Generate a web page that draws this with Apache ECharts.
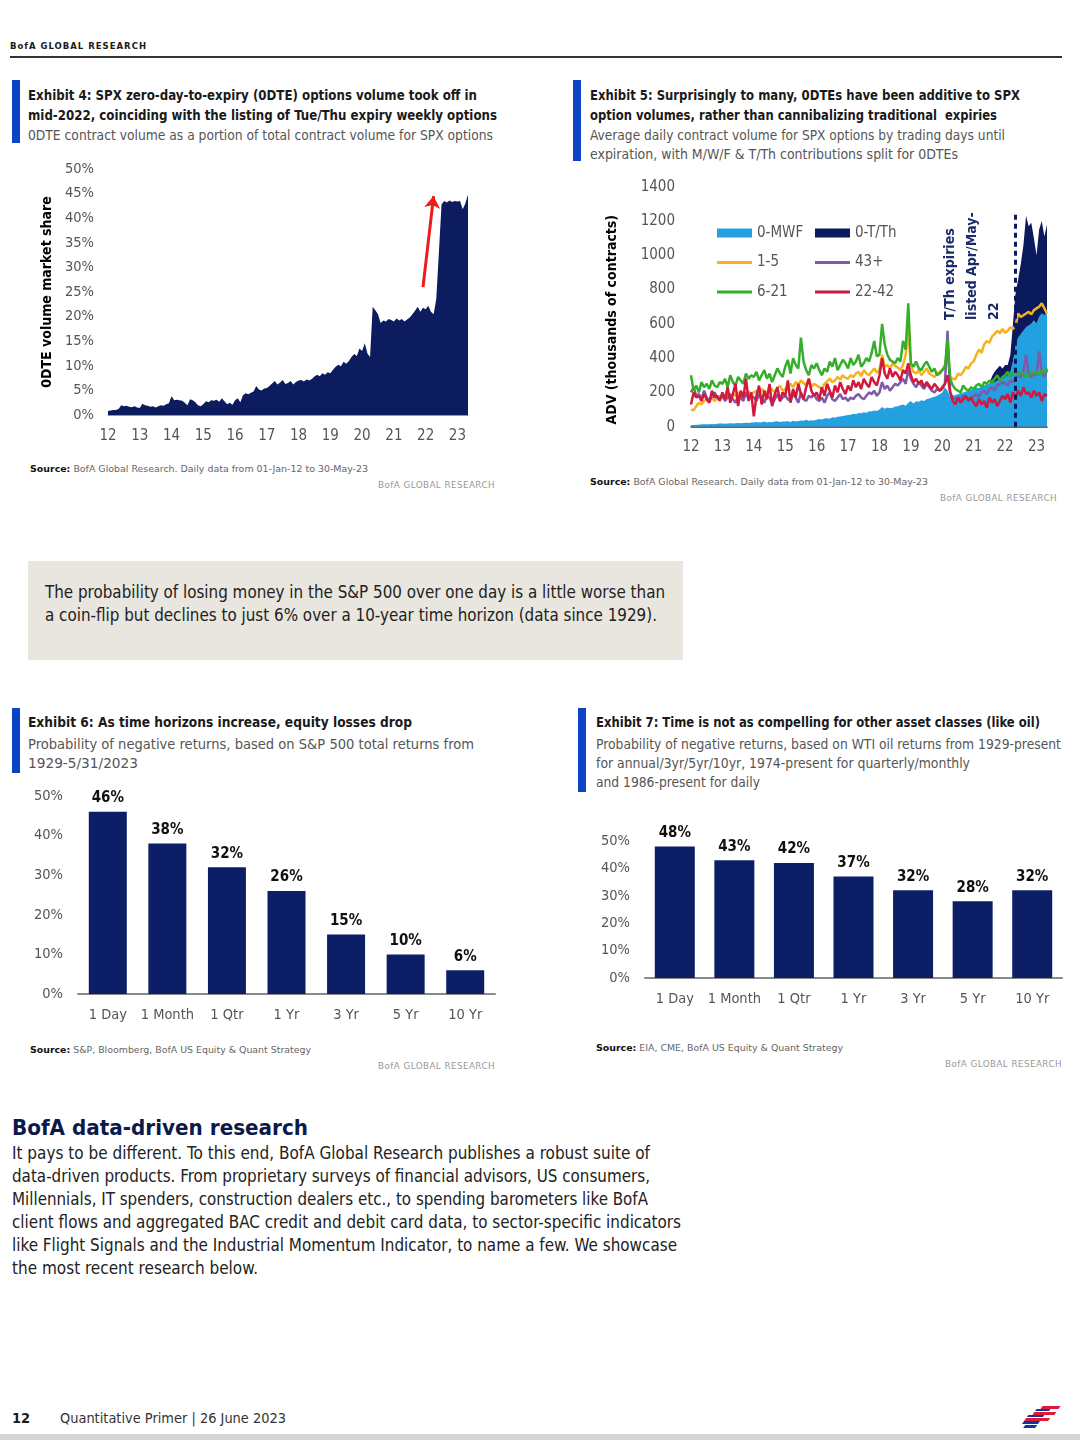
<!DOCTYPE html>
<html><head><meta charset="utf-8">
<script src="https://cdn.jsdelivr.net/npm/echarts@6/dist/echarts.min.js"></script>
<style>
html,body{margin:0;padding:0;background:#fff;width:1080px;height:1440px;overflow:hidden;}
body{position:relative;font-family:"DejaVu Sans Condensed","Liberation Sans Narrow",sans-serif;color:#1a1a1a;}
.t{position:absolute;white-space:nowrap;line-height:20px;transform-origin:0 50%;}
.bar{position:absolute;background:#0b45c6;}
.ttl{font-weight:bold;font-size:14.5px;color:#1a1a1a;}
.sub{font-size:14.5px;color:#555;}
.src{font-size:9px;color:#666;line-height:12px;}
.src b{color:#111;}
.gr{font-size:9px;color:#999;letter-spacing:0.4px;line-height:12px;}
.big{font-size:17.5px;color:#222;line-height:23px;}
.ch{position:absolute;}
</style></head>
<body>
<div class="t" data-w="137" style="left:10px;top:40px;font-size:8.5px;font-weight:bold;letter-spacing:0.9px;line-height:12px;">BofA GLOBAL RESEARCH</div>
<div style="position:absolute;left:10px;top:56px;width:1052px;height:2px;background:#333;"></div>

<div class="bar" style="left:12px;top:80px;width:8px;height:63px;"></div>
<div class="t ttl" data-w="449" style="left:28px;top:85px;">Exhibit 4: SPX zero-day-to-expiry (0DTE) options volume took off in</div>
<div class="t ttl" data-w="469" style="left:28px;top:105px;">mid-2022, coinciding with the listing of Tue/Thu expiry weekly options</div>
<div class="t sub" data-w="465" style="left:28px;top:125px;">0DTE contract volume as a portion of total contract volume for SPX options</div>

<div class="bar" style="left:573px;top:80px;width:8px;height:81px;"></div>
<div class="t ttl" data-w="430" style="left:590px;top:85px;">Exhibit 5: Surprisingly to many, 0DTEs have been additive to SPX</div>
<div class="t ttl" data-w="407" style="left:590px;top:105px;">option volumes, rather than cannibalizing traditional&nbsp; expiries</div>
<div class="t sub" data-w="415" style="left:590px;top:125px;">Average daily contract volume for SPX options by trading days until</div>
<div class="t sub" data-w="368" style="left:590px;top:144px;">expiration, with M/W/F &amp; T/Th contributions split for 0DTEs</div>

<div id="c4" class="ch" style="left:20px;top:150px;width:480px;height:300px;"></div>
<div id="c5" class="ch" style="left:580px;top:170px;width:490px;height:300px;"></div>

<div class="t src" data-w="338" style="left:30px;top:463px;"><b>Source:</b> BofA Global Research. Daily data from 01-Jan-12 to 30-May-23</div>
<div class="t gr" data-w="117" style="left:378px;top:479px;">BofA GLOBAL RESEARCH</div>
<div class="t src" data-w="338" style="left:590px;top:476px;"><b>Source:</b> BofA Global Research. Daily data from 01-Jan-12 to 30-May-23</div>
<div class="t gr" data-w="117" style="left:940px;top:492px;">BofA GLOBAL RESEARCH</div>

<div style="position:absolute;left:28px;top:561px;width:655px;height:99px;background:#e8e6de;"></div>
<div class="t big" data-w="620" style="left:45px;top:580.5px;">The probability of losing money in the S&amp;P 500 over one day is a little worse than</div>
<div class="t big" data-w="612" style="left:45px;top:603.5px;">a coin-flip but declines to just 6% over a 10-year time horizon (data since 1929).</div>

<div class="bar" style="left:12px;top:708px;width:8px;height:65px;"></div>
<div class="t ttl" data-w="384" style="left:28px;top:712px;">Exhibit 6: As time horizons increase, equity losses drop</div>
<div class="t sub" data-w="446" style="left:28px;top:734px;">Probability of negative returns, based on S&amp;P 500 total returns from</div>
<div class="t sub" data-w="110" style="left:28px;top:753px;">1929-5/31/2023</div>

<div class="bar" style="left:578px;top:708px;width:8px;height:84px;"></div>
<div class="t ttl" data-w="444" style="left:596px;top:712px;">Exhibit 7: Time is not as compelling for other asset classes (like oil)</div>
<div class="t sub" data-w="465" style="left:596px;top:734px;">Probability of negative returns, based on WTI oil returns from 1929-present</div>
<div class="t sub" data-w="374" style="left:596px;top:753px;">for annual/3yr/5yr/10yr, 1974-present for quarterly/monthly</div>
<div class="t sub" data-w="164" style="left:596px;top:772px;">and 1986-present for daily</div>

<div id="c6" class="ch" style="left:20px;top:780px;width:480px;height:250px;"></div>
<div id="c7" class="ch" style="left:585px;top:820px;width:485px;height:195px;"></div>

<div class="t src" data-w="281" style="left:30px;top:1044px;"><b>Source:</b> S&amp;P, Bloomberg, BofA US Equity &amp; Quant Strategy</div>
<div class="t gr" data-w="117" style="left:378px;top:1060px;">BofA GLOBAL RESEARCH</div>
<div class="t src" data-w="247" style="left:596px;top:1042px;"><b>Source:</b> EIA, CME, BofA US Equity &amp; Quant Strategy</div>
<div class="t gr" data-w="117" style="left:945px;top:1058px;">BofA GLOBAL RESEARCH</div>

<div class="t" data-w="296" style="left:12px;top:1114px;font-weight:bold;font-size:21px;line-height:28px;color:#0b1a4a;">BofA data-driven research</div>
<div class="t big" data-w="638" style="left:12px;top:1141.5px;">It pays to be different. To this end, BofA Global Research publishes a robust suite of</div>
<div class="t big" data-w="638" style="left:12px;top:1164.5px;">data-driven products. From proprietary surveys of financial advisors, US consumers,</div>
<div class="t big" data-w="636" style="left:12px;top:1187.5px;">Millennials, IT spenders, construction dealers etc., to spending barometers like BofA</div>
<div class="t big" data-w="669" style="left:12px;top:1210.5px;">client flows and aggregated BAC credit and debit card data, to sector-specific indicators</div>
<div class="t big" data-w="665" style="left:12px;top:1233.5px;">like Flight Signals and the Industrial Momentum Indicator, to name a few. We showcase</div>
<div class="t big" data-w="246" style="left:12px;top:1256.5px;">the most recent research below.</div>

<div class="t" style="left:12px;top:1408px;font-weight:bold;font-size:14.5px;">12</div>
<div class="t" data-w="226" style="left:60px;top:1408px;font-size:14.5px;color:#333;">Quantitative Primer | 26 June 2023</div>
<svg style="position:absolute;left:1014px;top:1404px;" width="48" height="28" viewBox="0 0 48 28">
<g transform="skewX(-35)">
<rect x="30" y="2" width="18" height="3" fill="#e31837"/>
<rect x="26" y="8" width="22" height="3" fill="#e31837"/>
<rect x="22" y="14" width="24" height="3" fill="#e31837"/>
<rect x="26" y="5" width="14" height="2" fill="#0b3a9e"/>
<rect x="22" y="11" width="16" height="2" fill="#0b3a9e"/>
<rect x="22" y="17" width="16" height="3" fill="#0b3a9e"/>
<rect x="26" y="21" width="12" height="3" fill="#0b3a9e"/>
</g>
</svg>
<div style="position:absolute;left:0;top:1434px;width:1080px;height:6px;background:#d4d4d4;"></div>

<script>
// fit each text line to the width measured on the reference page
document.querySelectorAll('.t[data-w]').forEach(el => {
  const natural = el.getBoundingClientRect().width;
  const target = parseFloat(el.dataset.w);
  if (natural > 0) el.style.transform = 'scaleX(' + (target / natural).toFixed(4) + ')';
});

const F = '"DejaVu Sans Condensed","Liberation Sans Narrow",sans-serif';

// months 2012-01 .. 2023-05
const months = [];
for (let y = 2012; y <= 2023; y++) {
  for (let m = 1; m <= 12; m++) {
    if (y === 2023 && m > 5) break;
    months.push(y + '-' + (m < 10 ? '0' + m : '' + m));
  }
}

// Exhibit 4: 0DTE share of SPX volume (%), monthly
const odteShare = [
  0.8,0.9,1.0,1.0,1.2,2.0,1.8,1.9,1.7,1.6,1.8,1.5,
  1.4,2.3,2.0,1.9,1.7,1.8,1.5,1.8,2.0,1.9,2.2,2.4,
  3.8,3.0,3.1,3.0,2.9,2.5,2.0,3.2,3.0,2.6,2.0,1.8,
  2.2,2.8,2.6,3.0,2.9,3.1,2.7,3.4,2.8,2.2,2.5,2.1,
  3.0,3.4,2.6,4.0,4.4,4.2,4.5,4.8,5.9,5.2,5.0,5.4,
  5.5,5.9,6.4,6.9,6.2,6.6,7.1,6.3,6.5,6.9,6.2,6.7,
  7.0,7.1,6.8,7.2,7.0,7.3,7.8,8.2,7.9,8.5,8.2,8.7,
  8.5,9.2,9.8,10.2,9.9,10.8,10.4,11.0,11.8,12.4,12.0,13.5,
  13.0,14.6,12.5,11.8,22.0,21.3,20.5,18.7,19.2,19.0,19.5,19.3,
  19.0,19.6,19.2,19.5,19.0,19.4,19.8,20.5,21.2,22.0,21.0,21.8,
  21.5,22.2,21.0,20.5,23.5,33.0,42.8,43.5,43.2,43.6,43.3,43.5,
  43.4,43.5,41.8,43.0,44.8
];

// Exhibit 5: ADV by days to expiry (thousands), monthly
const mwf = [
  10,10,12,12,14,15,14,15,16,15,17,18,
  18,17,19,20,18,20,22,20,21,23,22,24,
  25,28,24,26,30,25,27,26,30,32,28,30,
  30,32,28,35,30,33,36,34,40,35,38,36,
  40,45,42,48,50,46,55,52,58,60,62,65,
  68,70,75,72,80,78,85,82,90,88,95,92,
  100,115,105,112,108,110,118,120,125,130,122,140,
  150,135,148,145,155,150,160,165,170,175,180,190,
  200,230,210,175,180,185,190,195,200,205,210,215,
  220,230,225,235,240,245,250,255,260,270,275,280,
  290,300,320,380,470,520,540,560,580,590,600,620,
  600,640,660,650,670
];
const tth = [
  0,0,0,0,0,0,0,0,0,0,0,0,
  0,0,0,0,0,0,0,0,0,0,0,0,
  0,0,0,0,0,0,0,0,0,0,0,0,
  0,0,0,0,0,0,0,0,0,0,0,0,
  0,0,0,0,0,0,0,0,0,0,0,0,
  0,0,0,0,0,0,0,0,0,0,0,0,
  0,0,0,0,0,0,0,0,0,0,0,0,
  0,0,0,0,0,0,0,0,0,0,0,0,
  0,0,0,0,0,0,0,0,0,0,0,0,
  0,0,0,0,0,0,0,40,60,70,80,60,
  70,60,100,220,310,340,410,500,650,580,590,480,
  400,510,540,460,510
];
const d1to5 = [
  100,95,120,140,130,150,160,145,170,150,165,180,
  170,160,185,175,190,180,200,170,185,195,205,190,
  200,210,190,220,205,195,230,215,200,225,240,210,
  220,235,250,230,260,245,270,255,240,280,230,250,
  240,230,220,250,265,280,260,270,290,275,300,285,
  280,300,290,310,320,295,330,310,300,320,340,315,
  330,420,350,360,340,370,355,345,330,360,420,560,
  360,320,310,330,300,320,340,310,300,290,310,320,
  330,360,420,290,280,275,310,300,320,350,340,370,
  380,420,450,430,480,500,490,527,540,560,545,570,
  547,560,580,570,590,660,640,650,660,670,655,680,
  690,700,720,690,660
];
const d6to21 = [
  300,210,240,200,260,230,250,220,270,240,230,260,
  250,280,230,300,260,240,290,270,250,310,280,300,
  290,320,270,300,330,280,310,260,300,340,310,290,
  350,390,310,400,360,340,520,380,330,300,360,340,
  370,330,300,340,320,380,350,400,330,360,390,370,
  340,400,360,380,420,350,370,400,380,430,500,410,
  420,600,480,420,390,380,370,400,380,500,450,720,
  370,350,380,340,330,360,380,350,320,340,300,310,
  330,350,510,280,240,220,210,200,240,220,210,230,
  220,240,250,230,260,250,270,260,280,300,270,290,
  300,320,290,310,330,300,320,310,290,300,320,310,
  320,300,330,310,340
];
const d22to42 = [
  130,200,170,180,150,190,160,140,210,170,180,150,
  200,160,230,140,190,250,120,210,170,280,150,200,
  60,180,240,130,210,160,250,120,190,230,150,200,
  180,270,140,220,170,250,190,160,230,280,210,180,
  200,160,230,180,250,210,170,240,200,260,220,190,
  240,210,270,230,260,220,280,250,230,290,260,240,
  300,400,310,280,340,290,320,300,270,330,310,370,
  300,260,280,250,270,230,260,240,220,250,230,210,
  230,250,300,200,150,130,170,140,160,180,150,170,
  140,120,160,130,150,110,170,140,160,120,150,180,
  160,190,140,200,170,210,180,230,190,200,170,210,
  180,200,150,190,180
];
const d43plus = [
  200,230,180,190,160,210,170,150,180,200,170,160,
  180,150,170,190,160,140,180,170,150,200,160,180,
  170,150,190,160,140,180,170,130,160,190,150,170,
  180,160,150,190,170,140,200,160,150,180,170,190,
  160,150,170,140,180,200,160,150,170,190,160,170,
  150,170,160,180,190,170,160,180,200,190,210,180,
  200,260,220,240,210,230,250,240,260,280,250,330,
  280,250,230,260,240,220,250,230,210,200,220,210,
  220,250,560,200,170,160,170,160,180,170,160,170,
  180,190,170,200,210,190,220,230,210,240,250,260,
  250,240,270,260,280,300,290,320,420,300,290,310,
  300,440,320,290,330
];

// Exhibits 6 & 7
const horizons = ['1 Day','1 Month','1 Qtr','1 Yr','3 Yr','5 Yr','10 Yr'];
const spxNegative = [46,38,32,26,15,10,6];
const oilNegative = [48,43,42,37,32,28,32];

const GRAY = '#555';
const NAVY = '#0c1c5e';

// ---------- Chart 4 ----------
const c4 = echarts.init(document.getElementById('c4'));
c4.setOption({
  animation:false,
  grid:{left:88,right:32,top:19,bottom:35},
  xAxis:{type:'category',data:months,boundaryGap:false,
    axisLine:{show:true,lineStyle:{color:'#9a9a9a',width:1}},axisTick:{show:false},
    axisLabel:{interval:(i,v)=>v.endsWith('-01'),formatter:v=>v.slice(2,4),color:GRAY,fontSize:15,fontFamily:F,margin:14}},
  yAxis:{type:'value',min:0,max:50,interval:5,splitLine:{show:false},axisLine:{show:false},axisTick:{show:false},
    axisLabel:{formatter:'{value}%',color:GRAY,fontSize:14.5,fontFamily:F,margin:14},
    name:'0DTE volume market share',nameLocation:'middle',nameGap:52,
    nameTextStyle:{color:'#000',fontWeight:'bold',fontSize:14,fontFamily:F}},
  series:[{type:'line',data:odteShare,symbol:'none',lineStyle:{width:0},
    areaStyle:{color:NAVY,opacity:1},
    markLine:{silent:true,symbol:['none','arrow'],symbolSize:12,animation:false,
      lineStyle:{color:'#ee1c1c',width:3,type:'solid'},label:{show:false},
      data:[[{coord:['2021-12',26]},{coord:['2022-04',44.5]}]]}}]
});

// ---------- Chart 5 ----------
const c5 = echarts.init(document.getElementById('c5'));
const lineS = (name,data,color)=>({name,type:'line',data,symbol:'none',showSymbol:false,
  lineStyle:{width:2.5,color},itemStyle:{color},emphasis:{disabled:true}});
const legTxt = {color:GRAY,fontSize:15,fontFamily:F,lineHeight:16};
c5.setOption({
  animation:false,
  grid:{left:111,right:23,top:16.7,bottom:43.3},
  legend:[
    {left:132,top:50,itemWidth:35,itemHeight:9,selectedMode:false,textStyle:legTxt,
      data:[{name:'0-MWF',icon:'rect'}]},
    {left:230,top:50,itemWidth:35,itemHeight:9,selectedMode:false,textStyle:legTxt,
      data:[{name:'0-T/Th',icon:'rect'}]},
    {orient:'vertical',left:132,top:79.5,itemWidth:35,itemHeight:3,itemGap:13.5,selectedMode:false,textStyle:legTxt,
      data:[{name:'1-5',icon:'rect'},{name:'6-21',icon:'rect'}]},
    {orient:'vertical',left:230,top:79.5,itemWidth:35,itemHeight:3,itemGap:13.5,selectedMode:false,textStyle:legTxt,
      data:[{name:'43+',icon:'rect'},{name:'22-42',icon:'rect'}]}
  ],
  xAxis:{type:'category',data:months,boundaryGap:false,
    axisLine:{show:true,lineStyle:{color:'#333',width:1.5}},axisTick:{show:false},
    axisLabel:{interval:(i,v)=>v.endsWith('-01'),formatter:v=>v.slice(2,4),color:GRAY,fontSize:15,fontFamily:F,margin:13}},
  yAxis:{type:'value',min:0,max:1400,interval:200,splitLine:{show:false},axisLine:{show:false},axisTick:{show:false},
    axisLabel:{color:GRAY,fontSize:15,fontFamily:F,margin:16,formatter:v=>String(v)},
    name:'ADV (thousands of contracts)',nameLocation:'middle',nameGap:72,
    nameTextStyle:{color:'#000',fontWeight:'bold',fontSize:14,fontFamily:F,padding:[0,26,0,0]}},
  graphic:[{type:'text',x:359,y:150,rotation:Math.PI/2,
    style:{text:'T/Th expiries\nlisted Apr/May-\n22',fill:'#1b2a6b',font:'bold 14px '+F,lineHeight:22,align:'left',verticalAlign:'top'}}],
  series:[
    {name:'0-MWF',type:'line',stack:'odte',data:mwf,symbol:'none',lineStyle:{width:0},
      itemStyle:{color:'#23a0e0'},areaStyle:{color:'#23a0e0',opacity:1},emphasis:{disabled:true}},
    {name:'0-T/Th',type:'line',stack:'odte',data:tth,symbol:'none',lineStyle:{width:0},
      itemStyle:{color:'#0a1a5c'},areaStyle:{color:'#0a1a5c',opacity:1},emphasis:{disabled:true}},
    lineS('1-5',d1to5,'#f6b21c'),
    lineS('43+',d43plus,'#7f5aa8'),
    lineS('6-21',d6to21,'#36ae2a'),
    Object.assign(lineS('22-42',d22to42,'#d3183e'),{
      markLine:{silent:true,symbol:['none','none'],animation:false,label:{show:false},
        lineStyle:{color:'#0a1a5c',width:3,type:[5,4]},
        data:[[{coord:['2022-05',0]},{coord:['2022-05',1250]}]]}})
  ]
});

// ---------- Bar charts ----------
function barOpt(data,grid,barW,labMargin){
  return {
    animation:false,
    grid,
    xAxis:{type:'category',data:horizons,axisLine:{lineStyle:{color:'#8a8a8a',width:2}},axisTick:{show:false},
      axisLabel:{interval:0,color:GRAY,fontSize:14.5,fontFamily:F,margin:labMargin}},
    yAxis:{type:'value',min:0,max:50,interval:10,splitLine:{show:false},axisLine:{show:false},axisTick:{show:false},
      axisLabel:{formatter:'{value}%',color:GRAY,fontSize:14.5,fontFamily:F,margin:15}},
    series:[{type:'bar',data,barWidth:barW,itemStyle:{color:'#0c1f66'},emphasis:{disabled:true},
      label:{show:true,position:'top',formatter:'{c}%',fontWeight:'bold',fontSize:15,fontFamily:F,color:'#111',distance:6}}]
  };
}
echarts.init(document.getElementById('c6')).setOption(barOpt(spxNegative,{left:58,right:5,top:16,bottom:36},38,14));
echarts.init(document.getElementById('c7')).setOption(barOpt(oilNegative,{left:60,right:8,top:21,bottom:37},40,14));
</script>
</body></html>
